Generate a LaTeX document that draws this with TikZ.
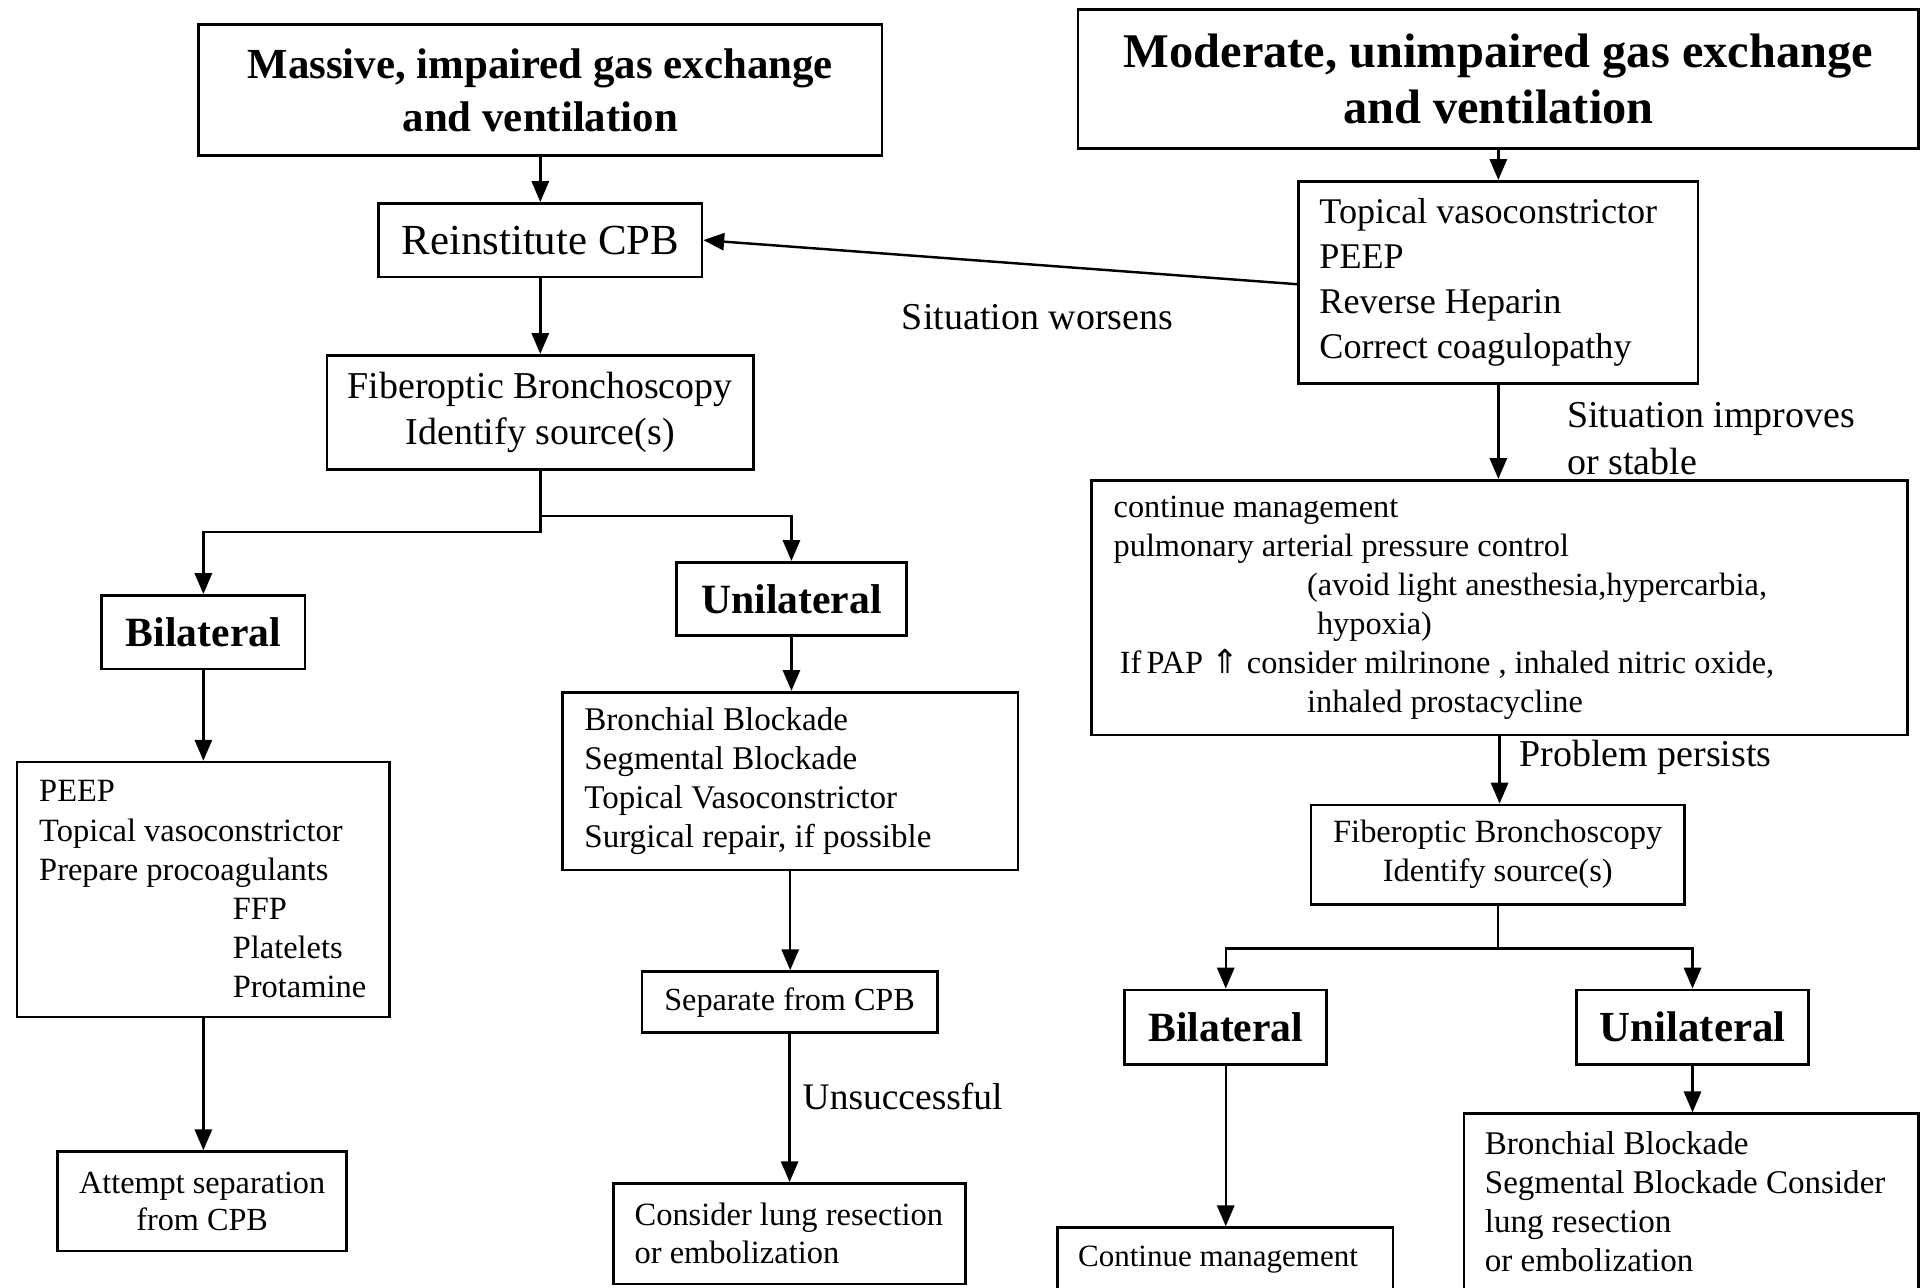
\documentclass[tikz,border=0pt]{standalone}
\usepackage{fontspec}
\setmainfont{Liberation Serif}
\newfontfamily\symfont{DejaVu Sans}
\usetikzlibrary{arrows.meta}
\newcommand\fs[2]{\fontsize{#1}{#2}\selectfont}
\newcommand\wl[2]{\makebox[#1][l]{#2}}
\begin{document}
\begin{tikzpicture}[x=1pt,y=-1pt,
  box/.style={draw, line width=2.2pt, inner sep=0pt, align=center},
  lbox/.style={draw, line width=2.2pt, inner sep=0pt, align=left},
  conn/.style={line width=2pt, -{Triangle[length=17pt,width=14pt]}},
  lbl/.style={inner sep=0pt, align=left, anchor=west}]
\fill[white] (0,0) rectangle (1568,1051);
\useasboundingbox (0,0) rectangle (1568,1051);

% left column
\node[box, minimum width=558pt, minimum height=107pt, font=\bfseries\fs{35}{43}] (massive) at (441,73.5) {Massive, impaired gas exchange\\and ventilation};
\node[box, minimum width=264pt, minimum height=60pt, font=\fs{35}{42}] (reinst) at (441,196) {Reinstitute CPB};
\node[box, minimum width=348pt, minimum height=93pt, font=\fs{31}{37}] (fibL) at (441,336.5) {Fiberoptic Bronchoscopy\\Identify source(s)};
\node[box, minimum width=166pt, minimum height=60pt, font=\bfseries\fs{34}{40}] (bilL) at (166,516) {Bilateral};
\node[box, minimum width=188pt, minimum height=60pt, font=\bfseries\fs{34}{40}] (uniL) at (646,489) {Unilateral};
\node[lbox, minimum width=304pt, minimum height=208pt, font=\fs{26.5}{32}] (peep) at (166,726) {\wl{268pt}{PEEP}\\Topical vasoconstrictor\\Prepare procoagulants\\\hspace*{158pt}FFP\\\hspace*{158pt}Platelets\\\hspace*{158pt}Protamine};
\node[lbox, minimum width=372pt, minimum height=145pt, font=\fs{27}{32}] (bronL) at (645,637.5) {\wl{336pt}{Bronchial Blockade}\\Segmental Blockade\\Topical Vasoconstrictor\\Surgical repair, if possible};
\node[box, minimum width=241pt, minimum height=50pt, font=\fs{26.3}{31}] (sep) at (644.5,818) {Separate from CPB};
\node[box, minimum width=236pt, minimum height=81pt, font=\fs{26.3}{30}] (attempt) at (165,980.5) {Attempt separation\\from CPB};
\node[lbox, minimum width=287pt, minimum height=82pt, font=\fs{26.5}{31}] (consider) at (644.5,1007) {\wl{253pt}{Consider lung resection}\\or embolization};

% right column
\node[box, minimum width=686pt, minimum height=113pt, font=\bfseries\fs{39.5}{46}] (moderate) at (1223,64.5) {Moderate, unimpaired gas exchange\\and ventilation};
\node[lbox, minimum width=326pt, minimum height=165pt, font=\fs{29.5}{36.7}] (topical) at (1223,230.5) {\wl{292pt}{Topical vasoconstrictor}\\PEEP\\Reverse Heparin\\Correct coagulopathy};
\node[lbox, minimum width=666pt, minimum height=208pt, font=\fs{26.4}{31.8}] (cont) at (1224,496) {\wl{630pt}{continue management}\\pulmonary arterial pressure control\\\hspace*{158pt}(avoid light anesthesia,hypercarbia,\\\hspace*{166pt}hypoxia)\\\hspace*{5pt}If\,PAP {\symfont\fs{27}{31.8}⇑} consider milrinone , inhaled nitric oxide,\\\hspace*{158pt}inhaled prostacycline};
\node[box, minimum width=305pt, minimum height=81pt, font=\fs{26.5}{32}] (fibR) at (1222.5,697.5) {Fiberoptic Bronchoscopy\\Identify source(s)};
\node[box, minimum width=165pt, minimum height=61pt, font=\bfseries\fs{34}{40}] (bilR) at (1000.5,838.5) {Bilateral};
\node[box, minimum width=189pt, minimum height=61pt, font=\bfseries\fs{35}{40}] (uniR) at (1381.5,838.5) {Unilateral};
\node[lbox, minimum width=274pt, minimum height=52pt, font=\fs{25.3}{30}] (contS) at (1000,1028) {\wl{240pt}{Continue management}};
\node[lbox, minimum width=371pt, minimum height=144pt, font=\fs{27}{32}] (bronR) at (1380.5,981) {\wl{337pt}{Bronchial Blockade}\\Segmental Blockade Consider\\lung resection\\or embolization};

% labels
\node[lbl, font=\fs{31}{37}] (worse) at (736,259) {Situation worsens};
\node[lbl, font=\fs{31}{38}] (improve) at (1279,358) {Situation improves\\or stable};
\node[lbl, font=\fs{31}{37}] (persist) at (1240,618) {Problem persists};
\node[lbl, font=\fs{30.6}{37}] (unsucc) at (655,895) {Unsuccessful};

% connectors
\draw[conn] (massive.south) -- (massive.south |- reinst.north);
\draw[conn] (reinst.south) -- (reinst.south |- fibL.north);
\draw[conn] (fibL.south) -- ++(0,50) -| (bilL.north);
\draw[conn] (fibL.south) -- ++(0,37) -| (uniL.north);
\draw[conn] (bilL.south) -- (bilL.south |- peep.north);
\draw[conn] (peep.south) -- (peep.south |- attempt.north);
\draw[conn] (uniL.south) -- (uniL.south |- bronL.north);
\draw[conn] (bronL.south) -- (bronL.south |- sep.north);
\draw[conn] (sep.south) -- (sep.south |- consider.north);

\draw[conn] (moderate.south) -- (moderate.south |- topical.north);
\draw[conn] ([yshift=-1.5pt]topical.west) -- (reinst.east);
\draw[conn] (topical.south) -- (topical.south |- cont.north);
\draw[conn] (cont.south) -- (cont.south |- fibR.north);
\draw[conn] (fibR.south) -- ++(0,35) -| (bilR.north);
\draw[conn] (fibR.south) -- ++(0,35) -| (uniR.north);
\draw[conn] (bilR.south) -- (bilR.south |- contS.north);
\draw[conn] (uniR.south) -- (uniR.south |- bronR.north);
\end{tikzpicture}
\end{document}
